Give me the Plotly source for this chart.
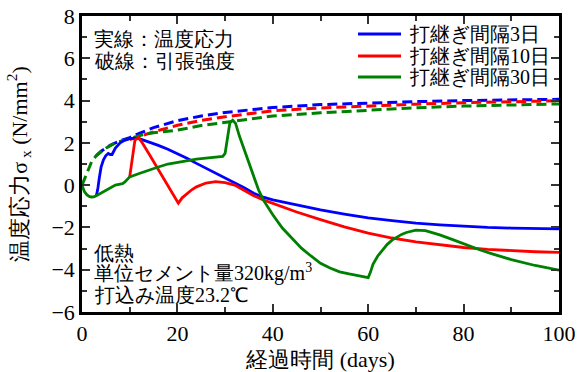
import plotly.graph_objects as go

# ---- data ----
blue_x = [3, 3.3, 3.6, 4, 4.5, 5, 5.5, 5.9, 6.3, 7, 8, 9, 10, 11, 12, 14, 16, 18, 20, 22, 24, 26, 28, 30,
          32, 34, 36, 38, 40, 42, 44, 46, 50, 55, 60, 65, 70, 75, 80, 85, 90, 95, 100]
blue_y = [-0.5, -0.2, 0.3, 0.85, 1.2, 1.4, 1.5, 1.45, 1.45, 1.75, 2.0, 2.13, 2.2, 2.22, 2.2, 2.05, 1.88, 1.7,
          1.5, 1.27, 1.03, 0.8, 0.57, 0.35, 0.12, -0.12, -0.38, -0.57, -0.7, -0.8, -0.9, -1.0, -1.17, -1.37,
          -1.55, -1.68, -1.8, -1.88, -1.95, -2.0, -2.03, -2.05, -2.07]

red_x = [10, 10.5, 11.1, 11.8, 12.5, 14, 15.7, 18, 20.2, 21, 22, 23, 24, 26, 28, 30, 32, 34, 36, 38, 40, 42,
         45, 50, 55, 60, 65, 70, 75, 80, 85, 90, 95, 100]
red_y = [0.39, 1.3, 2.13, 2.25, 2.05, 1.5, 0.87, -0.0, -0.85, -0.6, -0.4, -0.22, -0.08, 0.1, 0.17, 0.12, 0.0,
         -0.25, -0.5, -0.7, -0.87, -1.02, -1.27, -1.63, -1.97, -2.27, -2.5, -2.68, -2.83, -2.95, -3.04, -3.1,
         -3.15, -3.18]

green_x = [0, 0.5, 1, 1.5, 2, 2.5, 3, 4, 5, 6, 7, 8, 8.5, 9, 10, 12, 14, 16, 18, 20, 22, 24, 26, 28, 29.5, 30,
           30.5, 31, 31.6, 32.2, 33, 34, 35, 36, 37, 38, 39, 40, 42, 44, 46, 48, 50, 52, 54, 56, 58, 60, 60.5,
           61, 62, 63, 64, 65, 66, 67, 68, 70, 72, 75, 78, 80, 83.5, 86, 90, 95, 100]
green_y = [0, -0.3, -0.45, -0.53, -0.56, -0.55, -0.5, -0.38, -0.25, -0.12, 0.0, 0.05, 0.07, 0.15, 0.39, 0.55,
           0.72, 0.86, 1.0, 1.08, 1.16, 1.23, 1.28, 1.32, 1.36, 1.5, 2.3, 2.95, 3.07, 2.92, 2.32, 1.68, 1.0,
           0.38, -0.22, -0.7, -1.05, -1.4, -2.03, -2.5, -2.98, -3.35, -3.7, -3.92, -4.1, -4.2, -4.3, -4.37,
           -4.1, -3.75, -3.35, -3.05, -2.8, -2.6, -2.45, -2.33, -2.24, -2.13, -2.15, -2.35, -2.6, -2.78, -3.07,
           -3.25, -3.52, -3.8, -4.02]

blue_dash_x = [3, 4, 5, 6, 8, 10, 12, 15, 20, 25, 30, 40, 50, 60, 70, 80, 90, 100]
blue_dash_y = [1.4, 1.6, 1.75, 1.9, 2.1, 2.25, 2.45, 2.72, 3.05, 3.27, 3.44, 3.67, 3.81, 3.89, 3.95, 4.0, 4.03, 4.06]

red_dash_x = [10, 12, 15, 20, 25, 30, 40, 50, 60, 70, 80, 90, 100]
red_dash_y = [2.15, 2.3, 2.52, 2.83, 3.06, 3.23, 3.52, 3.65, 3.75, 3.83, 3.9, 3.95, 3.99]

green_dash_x = [0, 1, 2, 3, 4, 5, 7, 10, 13, 15, 20, 25, 30, 40, 50, 60, 70, 80, 90, 100]
green_dash_y = [0, 0.55, 1.1, 1.4, 1.58, 1.75, 2.0, 2.2, 2.4, 2.48, 2.6, 2.82, 2.97, 3.27, 3.42, 3.55, 3.66,
                3.74, 3.8, 3.84]

names = ["打継ぎ間隔3日", "打継ぎ間隔10日", "打継ぎ間隔30日"]
colors = ["#0000ff", "#ff0000", "#008000"]

FONT = "Liberation Serif"

fig = go.Figure()
for xs, ys, c in [(blue_dash_x, blue_dash_y, colors[0]), (red_dash_x, red_dash_y, colors[1]),
                  (green_dash_x, green_dash_y, colors[2])]:
    fig.add_trace(go.Scatter(x=xs, y=ys, mode="lines", showlegend=False,
                             line=dict(color=c, width=3, dash="10px,5px")))
for xs, ys, c, n in [(blue_x, blue_y, colors[0], names[0]), (red_x, red_y, colors[1], names[1]),
                     (green_x, green_y, colors[2], names[2])]:
    fig.add_trace(go.Scatter(x=xs, y=ys, mode="lines", name=n, showlegend=False,
                             line=dict(color=c, width=2.8)))

axis_common = dict(showline=True, linecolor="black", linewidth=2.5, mirror="allticks",
                   ticks="inside", ticklen=8, tickwidth=1.5, tickcolor="#333",
                   showgrid=False, zeroline=False, automargin=False,
                   tickfont=dict(family=FONT, size=22, color="black"))

fig.update_xaxes(range=[0, 100], dtick=20, tick0=0,
                 minor=dict(dtick=10, ticks="inside", ticklen=5, tickcolor="#333", tickwidth=1.5),
                 title=dict(text="経過時間 (days)", font=dict(family=FONT, size=22, color="black")),
                 **axis_common)
fig.update_yaxes(range=[-6, 8], dtick=2, tick0=0,
                 minor=dict(dtick=1, ticks="inside", ticklen=5, tickcolor="#333", tickwidth=1.5),
                 title=dict(text="温度応力σ<sub> x</sub> (N/mm<sup>2</sup>)",
                            font=dict(family=FONT, size=22, color="black")),
                 **axis_common)

ann_font = dict(family=FONT, size=20, color="black")
texts = [
    ("実線：温度応力", 0.922),
    ("破線：引張強度", 0.848),
    ("低熱", 0.199),
    ("単位セメント量320kg/m<sup>3</sup>", 0.135),
    ("打込み温度23.2℃", 0.057),
]
for t, yp in texts:
    fig.add_annotation(text=t, xref="paper", yref="paper", x=0.02, y=yp, xanchor="left",
                       yanchor="middle", showarrow=False, font=ann_font)

# legend (drawn as line samples + labels in paper coordinates)
leg_rows = [0.939, 0.865, 0.794]
for n, c, yp in zip(names, colors, leg_rows):
    fig.add_shape(type="line", xref="paper", yref="paper", x0=0.5786, x1=0.6688, y0=yp, y1=yp,
                  line=dict(color=c, width=3))
    fig.add_annotation(text=n, xref="paper", yref="paper", x=0.681, y=yp, xanchor="left",
                       yanchor="middle", showarrow=False, font=ann_font)

fig.update_layout(
    template="none",
    width=577, height=372,
    margin=dict(l=82, r=18, t=16, b=60),
    plot_bgcolor="white", paper_bgcolor="white",
    font=dict(family=FONT, color="black"),
    showlegend=False,
)

fig.write_html("out.html", config={"displayModeBar": False},
               post_script="document.body.style.margin='0';")
